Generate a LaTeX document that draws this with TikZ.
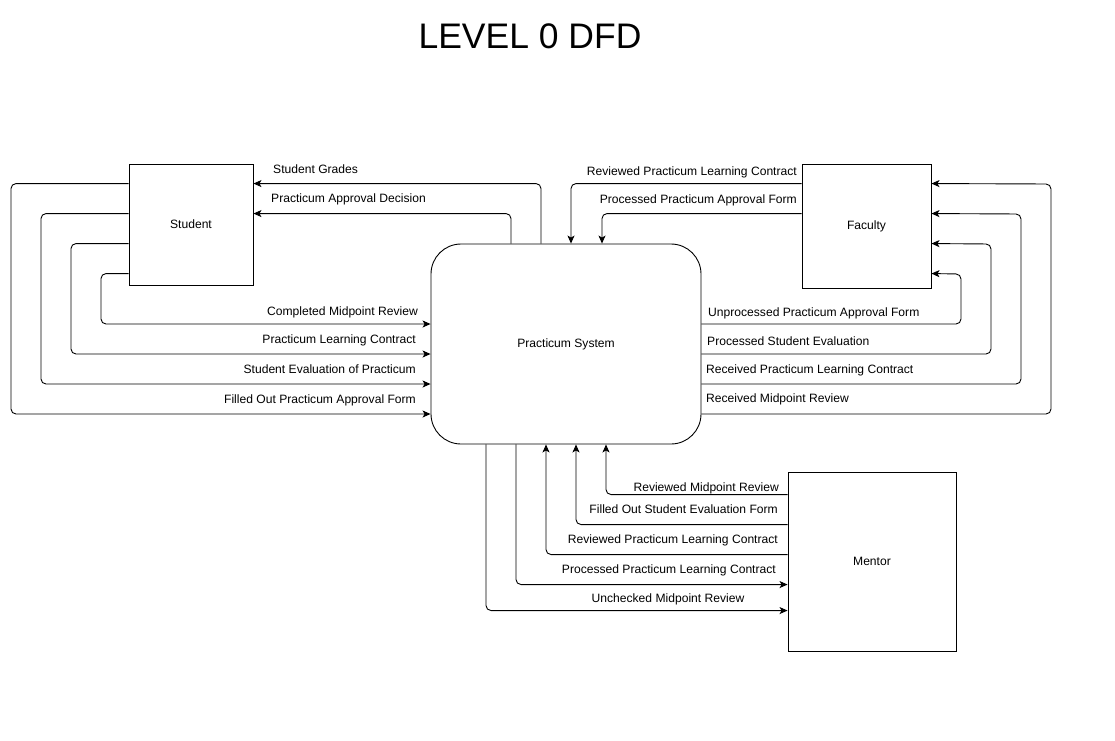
\documentclass[tikz,border=0pt]{standalone}
\usepackage{fontspec}
\setmainfont{Liberation Sans}
\usetikzlibrary{arrows.meta,positioning}

\begin{document}
\begin{tikzpicture}[x=1pt,y=-1pt,
                   every node/.style={font=\fontsize{12.1}{14}\selectfont},
                   entity/.style={draw,line width=0.9pt,inner sep=0pt},
                   process/.style={draw,line width=0.9pt,rounded corners=30pt,minimum width=270pt,minimum height=200pt},
                   flow/.style={line width=0.9pt,rounded corners=5pt,-{Stealth[length=8pt,width=7pt,inset=2pt]}},
                   lbl/.style={inner sep=0pt}]
\useasboundingbox (0,0) rectangle (1115,740);
\node[font=\fontsize{35.5}{40}\selectfont,anchor=base] (title) at (530,48.5) {LEVEL 0 DFD};

% entities and process
\node[entity,minimum width=124pt,minimum height=121pt] (student) at (191,224.5) {Student};
\node[entity,minimum width=129pt,minimum height=124pt] (faculty) at (866.5,226) {Faculty};
\node[entity,minimum width=168pt,minimum height=179pt] (mentor) at (872,561.5) {Mentor};
\node[process] (ps) at (566,344) {Practicum System};

% student
\draw[flow] ([xshift=-25pt]ps.north) |- ([yshift=-20pt]student.north east);
\draw[flow] ([xshift=-55pt]ps.north) |- ([yshift=-50pt]student.north east);
\draw[flow] ([yshift=-20pt]student.north west) -| (11,414) -- ([yshift=-70pt]ps.west);
\draw[flow] ([yshift=-50pt]student.north west) -| (41,384) -- ([yshift=-40pt]ps.west);
\draw[flow] ([yshift=-80pt]student.north west) -| (71,354) -- ([yshift=-10pt]ps.west);
\draw[flow] ([yshift=-110pt]student.north west) -| (101,324) -- ([yshift=20pt]ps.west);
\node[lbl,anchor=base west] (lgrades) at (273,173.5) {Student Grades};
\node[lbl,anchor=base west] (ldecision) at (271,202.5) {Practicum Approval Decision};
\node[lbl,anchor=base east] (lcompleted) at (418,315.5) {Completed Midpoint Review};
\node[lbl,anchor=base east] (lcontract) at (416,343.5) {Practicum Learning Contract};
\node[lbl,anchor=base east] (levaluation) at (416,373.5) {Student Evaluation of Practicum};
\node[lbl,anchor=base east] (lfilled) at (416,403.5) {Filled Out Practicum Approval Form};

% faculty
\draw[flow] ([yshift=-20pt]faculty.north west) -| ([xshift=5pt]ps.north);
\draw[flow] ([yshift=-50pt]faculty.north west) -| ([xshift=36pt]ps.north);
\draw[flow] ([yshift=20pt]ps.east) -| (961,274) -- ([yshift=-110pt]faculty.north east);
\draw[flow] ([yshift=-10pt]ps.east) -| (991,244) -- ([yshift=-80pt]faculty.north east);
\draw[flow] ([yshift=-40pt]ps.east) -| (1021,214) -- ([yshift=-50pt]faculty.north east);
\draw[flow] ([yshift=-70pt]ps.east) -| (1051,184) -- ([yshift=-20pt]faculty.north east);
\node[lbl,anchor=base east] (lrevcontract) at (797,175.5) {Reviewed Practicum Learning Contract};
\node[lbl,anchor=base east] (lprocform) at (797,203.5) {Processed Practicum Approval Form};
\node[lbl,anchor=base west] (lunprocform) at (708,316.5) {Unprocessed Practicum Approval Form};
\node[lbl,anchor=base west] (lprocevaluation) at (707,345.5) {Processed Student Evaluation};
\node[lbl,anchor=base west] (lreccontract) at (706,373.5) {Received Practicum Learning Contract};
\node[lbl,anchor=base west] (lrecreview) at (706,402.5) {Received Midpoint Review};

% mentor
\draw[flow] ([yshift=-23pt]mentor.north west) -| ([xshift=40pt]ps.south);
\draw[flow] ([yshift=-53pt]mentor.north west) -| ([xshift=10pt]ps.south);
\draw[flow] ([yshift=-83pt]mentor.north west) -| ([xshift=-20pt]ps.south);
\draw[flow] ([xshift=-50pt]ps.south) |- ([yshift=-113pt]mentor.north west);
\draw[flow] ([xshift=-80pt]ps.south) |- ([yshift=-139pt]mentor.north west);
\node[lbl,anchor=base east] (lrevreview) at (779,491) {Reviewed Midpoint Review};
\node[lbl,anchor=base east] (lfilledform) at (778,513) {Filled Out Student Evaluation Form};
\node[lbl,anchor=base east] (lmrevcontract) at (778,543.5) {Reviewed Practicum Learning Contract};
\node[lbl,anchor=base east] (lproccontract) at (776,573.5) {Processed Practicum Learning Contract};
\node[lbl,anchor=base] (lunchecked) at (668,602.5) {Unchecked Midpoint Review};
\end{tikzpicture}
\end{document}
